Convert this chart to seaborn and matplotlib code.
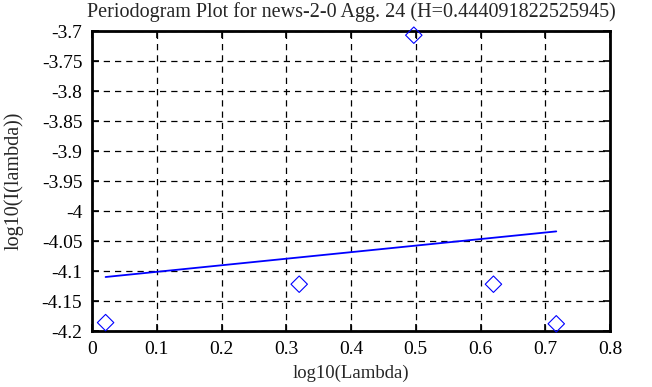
import numpy as np
import pandas as pd
import seaborn as sns
import matplotlib.pyplot as plt

# periodogram points (log10 lambda, log10 I(lambda))
log_lambda = [0.021, 0.320, 0.497, 0.620, 0.717]
log_I = [-4.186, -4.122, -3.707, -4.122, -4.188]

# least squares fit line
fit_x = [0.021, 0.717]
fit_y = [-4.110, -4.034]

x_ticks = [0, 0.1, 0.2, 0.3, 0.4, 0.5, 0.6, 0.7, 0.8]
x_labels = ["0", "0.1", "0.2", "0.3", "0.4", "0.5", "0.6", "0.7", "0.8"]
y_ticks = [-3.7, -3.75, -3.8, -3.85, -3.9, -3.95, -4.0, -4.05, -4.1, -4.15, -4.2]
y_labels = ["-3.7", "-3.75", "-3.8", "-3.85", "-3.9", "-3.95", "-4", "-4.05", "-4.1", "-4.15", "-4.2"]

sns.set_style("ticks")
plt.rcParams['font.family'] = ['Liberation Serif', 'DejaVu Serif']

fig = plt.figure(figsize=(6.52, 3.87), dpi=100)
ax = fig.add_axes([92/652, 1-331/387, 518/652, 300/387])

pts = pd.DataFrame({"x": log_lambda, "y": log_I})
fit = pd.DataFrame({"x": fit_x, "y": fit_y})

sns.lineplot(data=fit, x="x", y="y", ax=ax, color="#0000ff", linewidth=1.3, zorder=3)
sns.scatterplot(data=pts, x="x", y="y", ax=ax, marker="D", s=70,
                facecolor="none", edgecolor="#0000ff", linewidth=0.8, zorder=4, clip_on=False)

ax.set_xlim(0, 0.8)
ax.set_ylim(-4.2, -3.7)
ax.set_xticks(x_ticks)
ax.set_xticklabels(x_labels)
ax.set_yticks(y_ticks)
ax.set_yticklabels(y_labels)
ax.grid(True, color="black", linestyle=(0, (5, 4)), linewidth=0.9)
ax.tick_params(direction="in", length=5, width=1.2, top=True, right=True,
               labelsize=14, colors="black", pad=7)
ax.tick_params(axis="x", pad=7)
for s in ax.spines.values():
    s.set_linewidth(2)
    s.set_color("black")

ax.set_xlabel("log10(Lambda)", fontsize=13.5, labelpad=5)
ax.set_ylabel("log10(I(lambda))", fontsize=14.5, labelpad=13)
ax.set_title("Periodogram Plot for news-2-0 Agg. 24 (H=0.444091822525945)", fontsize=14.5, pad=10)

fig.savefig("out.png", dpi=100)
